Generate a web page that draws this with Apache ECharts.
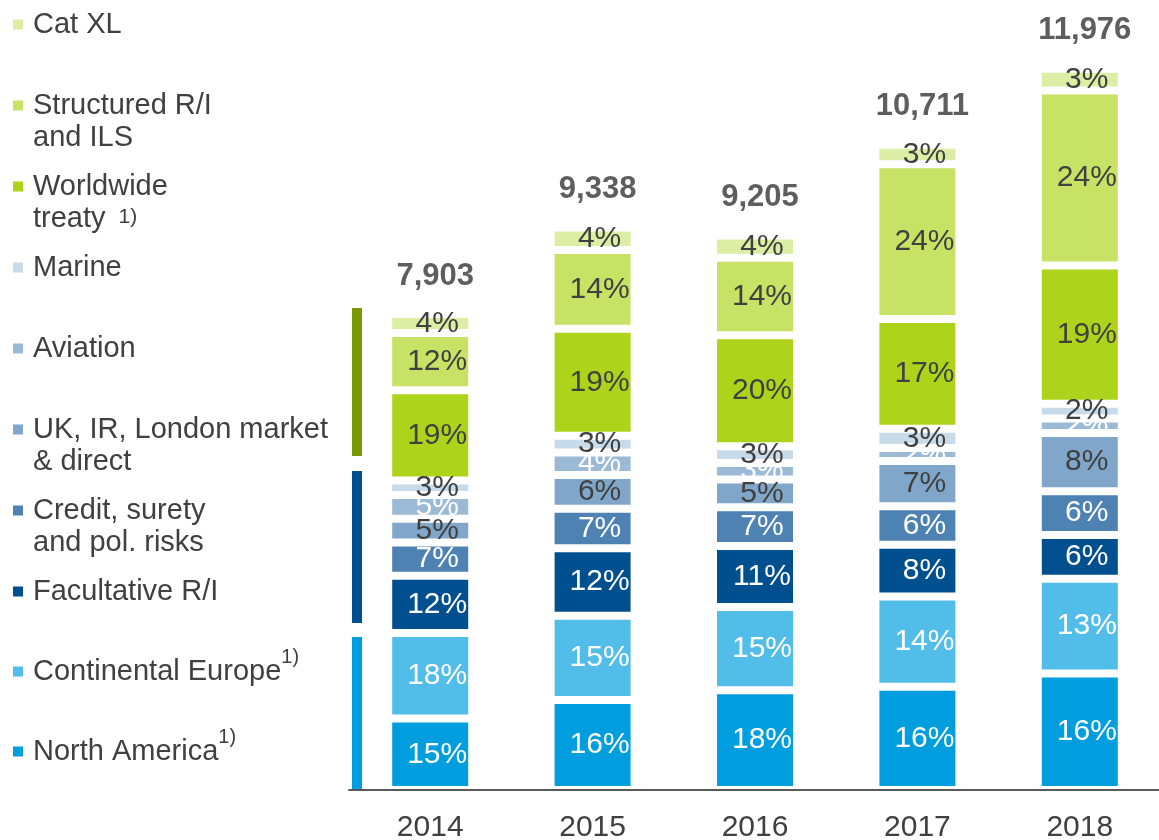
<!DOCTYPE html>
<html>
<head>
<meta charset="utf-8">
<script src="https://cdn.jsdelivr.net/npm/echarts@6/dist/echarts.min.js"></script>
<style>
  html, body { margin: 0; padding: 0; background: #fff; }
  #chart { width: 1159px; height: 840px; }
</style>
</head>
<body>
<div id="chart"></div>
<script>
// 年份与总额
const years = ['2014', '2015', '2016', '2017', '2018'];
const totals = [7903, 9338, 9205, 10711, 11976];

// 各业务线占比 (%)，自下而上堆叠
const northAmerica = [15, 16, 18, 16, 16];
const continentalEurope = [18, 15, 15, 14, 13];
const facultative = [12, 12, 11, 8, 6];
const creditSurety = [7, 7, 7, 6, 6];
const ukLondon = [5, 6, 5, 7, 8];
const aviation = [5, 4, 3, 2, 2];
const marine = [3, 3, 3, 3, 2];
const worldwideTreaty = [19, 19, 20, 17, 19];
const structuredIls = [12, 14, 14, 24, 24];
const catXl = [4, 4, 4, 3, 3];

const FONT = '"Liberation Sans", Arial, sans-serif';
const TEXT_DARK = '#404040';

// 系列配置 (颜色 / 标签颜色 / 图例文字)
const segments = [
  { name: 'North America', values: northAmerica, color: '#009EDF', labelColor: '#fff', lines: ['North America{sup|1)}', ''] },
  { name: 'Continental Europe', values: continentalEurope, color: '#53BDEA', labelColor: '#fff', lines: ['Continental Europe{sup|1)}', ''] },
  { name: 'Facultative R/I', values: facultative, color: '#004F8E', labelColor: '#fff', lines: ['Facultative R/I', ''] },
  { name: 'Credit, surety and pol. risks', values: creditSurety, color: '#4D82B2', labelColor: '#fff', lines: ['Credit, surety', 'and pol. risks'] },
  { name: 'UK, IR, London market & direct', values: ukLondon, color: '#80A7CA', labelColor: TEXT_DARK, lines: ['UK, IR, London market', '& direct'] },
  { name: 'Aviation', values: aviation, color: '#9BBAD6', labelColor: '#fff', lines: ['Aviation', ''] },
  { name: 'Marine', values: marine, color: '#C8DBEA', labelColor: TEXT_DARK, lines: ['Marine', ''] },
  { name: 'Worldwide treaty', values: worldwideTreaty, color: '#ADD41A', labelColor: TEXT_DARK, lines: ['Worldwide', 'treaty {supLow|1)}'] },
  { name: 'Structured R/I and ILS', values: structuredIls, color: '#C7E265', labelColor: TEXT_DARK, lines: ['Structured R/I', 'and ILS'] },
  { name: 'Cat XL', values: catXl, color: '#DCEDA4', labelColor: TEXT_DARK, lines: ['Cat XL', ''] }
];

// 每年占比之和 (四舍五入后不一定等于 100)
const pctSums = years.map((y, j) => segments.reduce((acc, s) => acc + s.values[j], 0));

const rich = {
  sp: { width: 10, lineHeight: 32 },
  ind: { width: 20, lineHeight: 32 },
  indS: { width: 20, lineHeight: 17 },
  sup: { fontFamily: FONT, fontSize: 20, color: TEXT_DARK, lineHeight: 32, padding: [0, 0, 28, 0] },
  supLow: { fontFamily: FONT, fontSize: 21, color: TEXT_DARK, lineHeight: 32, padding: [0, 0, 2, 5] }
};
segments.forEach((s, i) => {
  rich['sq' + i] = { width: 10, height: 10, backgroundColor: s.color, lineHeight: 32 };
});

const chart = echarts.init(document.getElementById('chart'));

const barSeries = segments.map(s => ({
  name: s.name,
  type: 'bar',
  stack: 'total',
  barWidth: 84,
  itemStyle: { color: s.color, borderColor: '#fff', borderWidth: 4 },
  label: {
    show: true,
    position: 'inside',
    offset: [7, 0],
    fontFamily: FONT,
    fontSize: 30,
    color: s.labelColor,
    textBorderWidth: 0,
    formatter: p => s.values[p.dataIndex] + '%'
  },
  emphasis: { disabled: true },
  data: s.values.map((v, j) => v / pctSums[j] * totals[j])
}));

// 柱顶总额
const totalSeries = {
  name: 'total',
  type: 'scatter',
  symbolSize: 1,
  itemStyle: { color: 'transparent' },
  label: {
    show: true,
    position: 'top',
    distance: 22,
    offset: [5, 0],
    fontFamily: FONT,
    fontSize: 31,
    fontWeight: 'bold',
    color: '#363636',
    formatter: p => p.value.toLocaleString('en-US')
  },
  emphasis: { disabled: true },
  z: 5,
  data: totals
};

const legendBase = {
  orient: 'vertical',
  left: 7,
  padding: 0,
  itemGap: 17,
  itemWidth: 0,
  itemHeight: 0,
  icon: 'rect',
  selectedMode: false,
  textStyle: { fontFamily: FONT, fontSize: 29, color: TEXT_DARK, lineHeight: 32, rich },
  formatter: name => {
    const i = segments.findIndex(s => s.name === name);
    const l = segments[i].lines;
    const second = l[0].indexOf('{sup|') >= 0 ? '{indS|}' : '{ind|}' + l[1];
    return '{sq' + i + '|}{sp|}' + l[0] + '\n' + second;
  }
};
const legendNames = segments.map(s => s.name).reverse();

const option = {
  animation: false,
  backgroundColor: '#fff',
  grid: { left: 349, width: 812, top: 7, height: 783, outerBoundsMode: 'none', containLabel: false },
  legend: [
    Object.assign({}, legendBase, { top: 8.5, data: legendNames.slice(0, 8) }),
    Object.assign({}, legendBase, { top: 647.5, data: legendNames.slice(8) })
  ],
  xAxis: {
    type: 'category',
    data: years,
    z: 3,
    axisLine: { lineStyle: { color: '#595959', width: 2 } },
    axisTick: { show: false },
    axisLabel: { fontFamily: FONT, fontSize: 30, color: TEXT_DARK, margin: 23 }
  },
  yAxis: { type: 'value', min: 0, max: 13000, show: false },
  // 左侧分组色条
  graphic: [
    { type: 'rect', left: 352, top: 308, shape: { width: 10, height: 148 }, style: { fill: '#7A9900' } },
    { type: 'rect', left: 352, top: 471, shape: { width: 10, height: 152 }, style: { fill: '#004F8E' } },
    { type: 'rect', left: 352, top: 637, shape: { width: 10, height: 153 }, style: { fill: '#009EDF' } }
  ],
  series: [...barSeries, totalSeries]
};

chart.setOption(option);
</script>
</body>
</html>
